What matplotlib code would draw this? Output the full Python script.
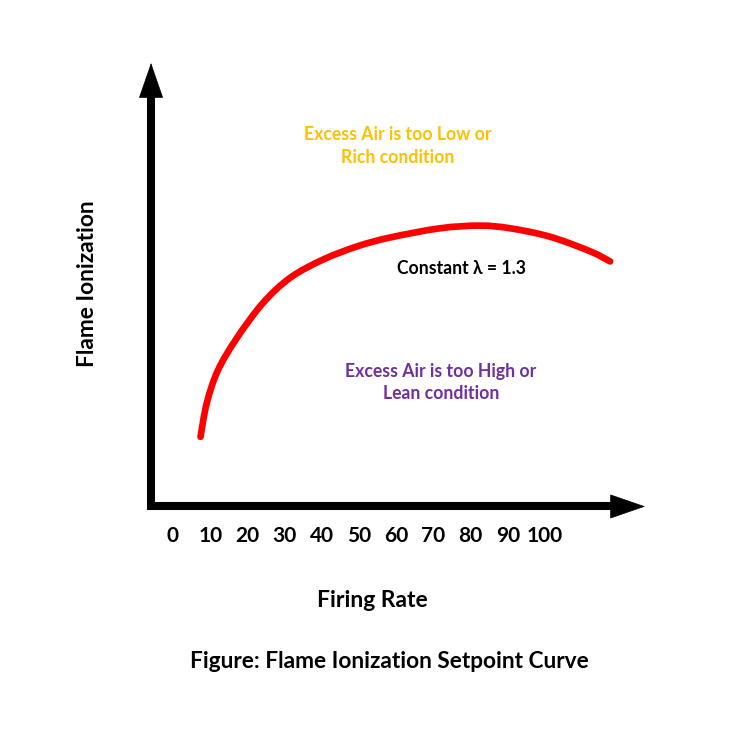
import matplotlib
matplotlib.use("Agg")
import matplotlib.pyplot as plt
from matplotlib.path import Path
from matplotlib.patches import PathPatch

plt.rcParams['font.family'] = ['Lato', 'DejaVu Sans']
plt.rcParams['font.weight'] = 'bold'

# setpoint curve (firing rate vs ionization, arbitrary units)
firing_rate = [7.4, 9.1, 12.1, 17.2, 24.2, 31.5, 40.3, 49.5, 58.3,
               71.8, 82.5, 90.6, 101.3, 112.1, 117.5]
ionization = [15.4, 23.1, 30.5, 37.8, 45.7, 51.4, 55.5, 58.5, 60.5,
              62.6, 63.2, 62.6, 60.7, 57.4, 55.1]

tick_values = [0, 10, 20, 30, 40, 50, 60, 70, 80, 90, 100]
tick_labels = [str(v) for v in tick_values]


def smooth_path(xs, ys):
    # catmull-rom through the read points, drawn as cubic beziers
    pts = list(zip(xs, ys))
    verts = [pts[0]]
    codes = [Path.MOVETO]
    n = len(pts)
    for i in range(n - 1):
        p0 = pts[max(i - 1, 0)]
        p1 = pts[i]
        p2 = pts[i + 1]
        p3 = pts[min(i + 2, n - 1)]
        c1 = (p1[0] + (p2[0] - p0[0]) / 6, p1[1] + (p2[1] - p0[1]) / 6)
        c2 = (p2[0] - (p3[0] - p1[0]) / 6, p2[1] - (p3[1] - p1[1]) / 6)
        verts += [c1, c2, p2]
        codes += [Path.CURVE4] * 3
    return Path(verts, codes)


fig = plt.figure(figsize=(7.47, 7.29), dpi=100)
ax = fig.add_axes([0, 0, 1, 1])
ax.set_xlim(-46.5, 154.3)
ax.set_ylim(-50.7, 114.25)
ax.axis('off')

# axes drawn as thick arrows
x0, y0 = -5.9, -0.35
x_tip, y_tip = 126.9, 100
x_base, y_base = 118.0, 92.8
ax.plot([x0, x0, x_base], [y_base, y0, y0], color='black', lw=5.8,
        solid_joinstyle='miter', solid_capstyle='butt')
head = dict(arrowstyle='-|>,head_length=24,head_width=8.3', mutation_scale=1,
            color='black', lw=0.5, shrinkA=0, shrinkB=0)
ax.annotate('', xy=(x_tip, y0), xytext=(x_base - 3, y0), arrowprops=head)
ax.annotate('', xy=(x0, y_tip), xytext=(x0, y_base - 3), arrowprops=head)

curve = PathPatch(smooth_path(firing_rate, ionization), facecolor='none',
                  edgecolor='#ff0000', lw=4.8, capstyle='round', joinstyle='round')
ax.add_patch(curve)

for v, lab in zip(tick_values, tick_labels):
    ax.text(v, -7.0, lab, ha='center', va='center', fontsize=15)

ax.text(60.3, 81.2, 'Excess Air is too Low or\nRich condition', color='#ffc000',
        ha='center', va='center', fontsize=12.7, linespacing=1.4)
ax.text(77.5, 53.5, 'Constant \u03bb = 1.3', color='black',
        ha='center', va='center', fontsize=12.7)
ax.text(72.0, 27.7, 'Excess Air is too High or\nLean condition', color='#7030a0',
        ha='center', va='center', fontsize=12.7, linespacing=1.4)

ax.text(-23.0, 50.0, 'Flame Ionization', rotation=90, ha='center', va='center',
        fontsize=16.3)
ax.text(53.5, -21.7, 'Firing Rate', ha='center', va='center', fontsize=16.5)
ax.text(58.3, -35.5, 'Figure: Flame Ionization Setpoint Curve', ha='center',
        va='center', fontsize=16.3)

fig.savefig('out.png', dpi=100)
